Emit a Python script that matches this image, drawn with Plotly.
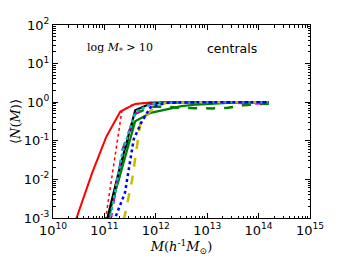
import numpy as np
import plotly.graph_objects as go

# log10(M) and <N(M)> for each curve
red_solid_logM = [10.40, 10.76, 11.04, 11.31, 11.60, 11.90, 12.20, 12.80, 13.40, 14.00, 14.20]
red_solid_N    = [0.0006, 0.0145, 0.13, 0.57, 0.90, 0.98, 1.0, 1.0, 1.0, 1.0, 1.0]

red_dot_logM = [11.02, 11.21, 11.34, 11.57, 11.90, 12.20, 12.80, 13.40, 14.00, 14.20]
red_dot_N    = [0.0009, 0.04, 0.6, 0.9, 0.98, 1.0, 1.0, 1.0, 1.0, 1.0]

green_solid_logM = [11.06, 11.35, 11.60, 11.90, 12.20, 12.50, 12.80, 13.10, 13.40, 13.70, 14.00, 14.20]
green_solid_N    = [0.0009, 0.02, 0.32, 0.53, 0.66, 0.79, 0.87, 0.93, 0.96, 0.97, 0.98, 0.99]

green_dash_logM = [11.08, 11.35, 11.60, 11.90, 12.20, 12.50, 12.80, 13.10, 13.40, 13.70, 14.00, 14.20]
green_dash_N    = [0.001, 0.025, 0.5, 0.76, 0.76, 0.71, 0.69, 0.69, 0.72, 0.83, 0.89, 0.91]

black_logM = [11.05, 11.30, 11.60, 11.90, 12.20, 12.80, 13.40, 14.00, 14.20]
black_N    = [0.0009, 0.02, 0.62, 0.92, 0.98, 1.0, 1.0, 1.0, 1.0]

blue_dot_logM = [11.18, 11.40, 11.57, 11.73, 11.90, 12.20, 12.80, 13.40, 14.00, 14.20]
blue_dot_N    = [0.0008, 0.0045, 0.11, 0.32, 0.75, 0.96, 1.0, 1.0, 1.0, 1.0]

yellow_dash_logM = [11.38, 11.54, 11.70, 11.86, 12.00, 12.20, 12.80, 13.40, 14.00, 14.20]
yellow_dash_N    = [0.0009, 0.01, 0.29, 0.52, 0.8, 0.95, 0.99, 1.0, 1.0, 1.0]

cyan_dot_logM = [11.10, 11.35, 11.60, 11.90, 12.20, 12.80, 13.40, 14.00, 14.20]
cyan_dot_N    = [0.0008, 0.05, 0.55, 0.9, 0.97, 1.0, 1.0, 1.0, 1.0]

magenta_dash_logM = [11.12, 11.35, 11.60, 11.90, 12.20, 12.80, 13.40, 13.90, 14.20]
magenta_dash_N    = [0.0008, 0.06, 0.5, 0.9, 0.97, 0.99, 0.98, 0.9, 0.96]

x_tick_exp = [10, 11, 12, 13, 14, 15]
y_tick_exp = [-3, -2, -1, 0, 1, 2]

curves = [
    (red_solid_logM, red_solid_N, "#ff0000", "solid", 2.0),
    (red_dot_logM, red_dot_N, "#ff0000", "dot", 1.5),
    (green_solid_logM, green_solid_N, "#008000", "solid", 2.2),
    (green_dash_logM, green_dash_N, "#008000", "dash", 2.5),
    (black_logM, black_N, "#000000", "solid", 2.2),
    (magenta_dash_logM, magenta_dash_N, "#bf00bf", "dash", 2.0),
    (cyan_dot_logM, cyan_dot_N, "#00bfbf", "dot", 2.5),
    (yellow_dash_logM, yellow_dash_N, "#bfbf00", "dash", 2.5),
    (blue_dot_logM, blue_dot_N, "#0000ff", "dot", 2.5),
]

fig = go.Figure()
for lm, n, col, dash, w in curves:
    fig.add_trace(go.Scatter(x=10 ** np.array(lm), y=n, mode="lines",
                             line=dict(color=col, dash=dash, width=w),
                             showlegend=False, hoverinfo="skip"))

def sup(p):
    return "10<sup>%d</sup>" % p

def minors(lo, hi):
    vals = []
    for e in range(lo, hi):
        for k in range(2, 10):
            vals.append(k * 10.0 ** e)
    return vals

tickfont = dict(family="DejaVu Sans", size=13, color="black")
axis_common = dict(type="log", showgrid=False, zeroline=False, showline=True,
                   linecolor="black", linewidth=1, mirror="ticks", automargin=False,
                   ticks="inside", ticklen=5, tickcolor="black", tickwidth=1,
                   tickfont=tickfont, tickmode="array")

fig.update_xaxes(range=[10, 15], tickvals=[10.0 ** p for p in x_tick_exp],
                 ticktext=[sup(p) for p in x_tick_exp],
                 minor=dict(tickmode="array", tickvals=minors(10, 15), ticks="inside",
                            ticklen=2.5, tickcolor="black", showgrid=False),
                 title=dict(text="<i>M</i>(<i>h</i><sup>-1</sup><i>M</i><sub>⊙</sub>)",
                            font=dict(family="DejaVu Serif", size=13, color="black"),
                            standoff=3),
                 **axis_common)
fig.update_yaxes(range=[-3, 2], tickvals=[10.0 ** p for p in y_tick_exp],
                 ticktext=[sup(p) for p in y_tick_exp],
                 minor=dict(tickmode="array", tickvals=minors(-3, 2), ticks="inside",
                            ticklen=2.5, tickcolor="black", showgrid=False),
                 title=dict(text="⟨<i>N</i>(<i>M</i>)⟩",
                            font=dict(family="DejaVu Serif", size=13, color="black"),
                            standoff=12),
                 **axis_common)

fig.add_annotation(x=0.125, y=0.88, xref="paper", yref="paper", xanchor="left", yanchor="middle",
                   text="log <i>M</i><sub>*</sub> > 10", showarrow=False,
                   font=dict(family="DejaVu Serif", size=11, color="black"))
fig.add_annotation(x=0.59, y=0.88, xref="paper", yref="paper", xanchor="left", yanchor="middle",
                   text="centrals", showarrow=False,
                   font=dict(family="DejaVu Sans", size=12.5, color="black"))

# the page body adds an 8px offset; these margins put the plot area where the reference has it
fig.update_layout(width=344, height=258, margin=dict(l=45, r=42, t=17, b=48),
                  paper_bgcolor="white", plot_bgcolor="white")

fig.write_html("out.html")
